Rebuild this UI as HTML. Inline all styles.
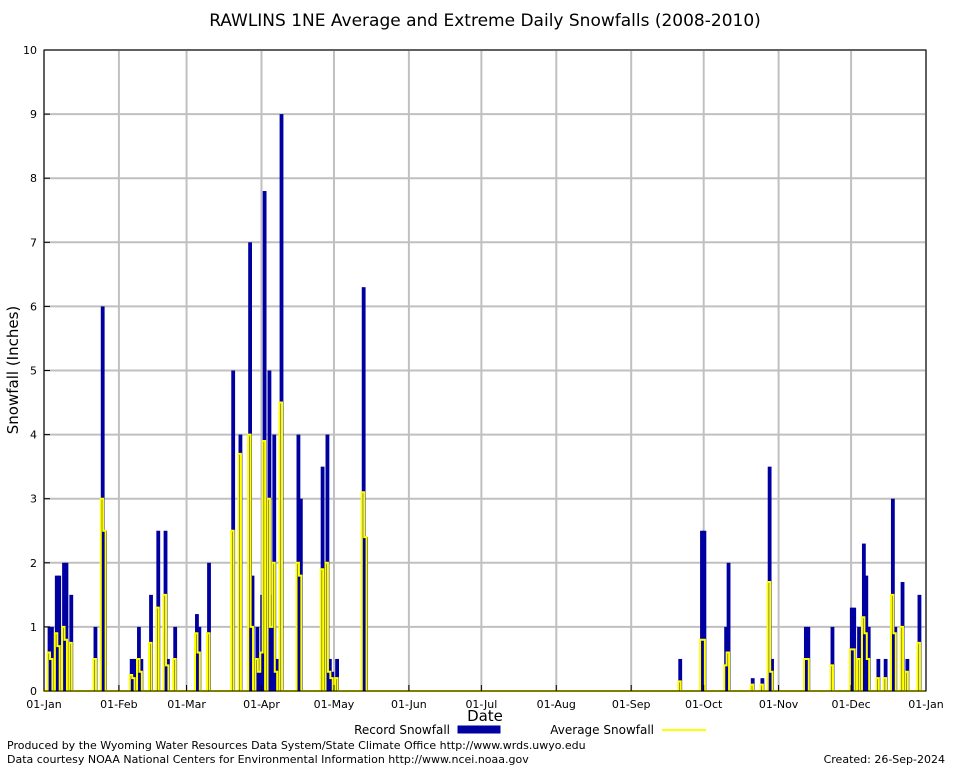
<!DOCTYPE html>
<html><head><meta charset="utf-8"><style>
body{margin:0;background:#fff;font-family:"DejaVu Sans","Liberation Sans",sans-serif;}
svg text{font-family:"DejaVu Sans","Liberation Sans",sans-serif;}
</style></head><body>
<svg id="c" width="954" height="768" xmlns="http://www.w3.org/2000/svg">
<rect width="954" height="768" fill="#fff"/>
<text x="485" y="26" font-size="17" text-anchor="middle">RAWLINS 1NE Average and Extreme Daily Snowfalls (2008-2010)</text>
<g id="grid"></g>
<g id="bars"></g>
<g id="avg"></g>
<rect x="44" y="50" width="882" height="641" fill="none" stroke="#000" stroke-width="1"/>
<g id="axes"></g>
<text x="18" y="370" font-size="15" text-anchor="middle" transform="rotate(-90 18 370)">Snowfall (Inches)</text>
<text x="485" y="721" font-size="15" text-anchor="middle">Date</text>
<g>
<text x="450" y="734" font-size="12" text-anchor="end">Record Snowfall</text>
<rect x="458" y="726" width="42" height="7" fill="#0000a0" stroke="#0000a0"/>
<text x="654" y="734" font-size="12" text-anchor="end">Average Snowfall</text>
<line x1="662" y1="730" x2="706" y2="730" stroke="#ffff00" stroke-width="2"/>
</g>
<text x="7" y="749" font-size="11">Produced by the Wyoming Water Resources Data System/State Climate Office http://www.wrds.uwyo.edu</text>
<text x="7" y="763" font-size="11">Data courtesy NOAA National Centers for Environmental Information http://www.ncei.noaa.gov</text>
<text x="945" y="763" font-size="11" text-anchor="end">Created:  26-Sep-2024</text>
</svg>
<script>
const monthLabels=["01-Jan","01-Feb","01-Mar","01-Apr","01-May","01-Jun","01-Jul","01-Aug","01-Sep","01-Oct","01-Nov","01-Dec","01-Jan"];
const monthStarts=[0,31,59,90,120,151,181,212,243,273,304,334,365];
const yTicks=[0,1,2,3,4,5,6,7,8,9,10];
const snowDays=[2,3,5,6,8,9,11,21,24,25,36,37,39,40,44,47,50,51,54,63,64,68,78,81,85,86,88,89,90,91,93,94,95,96,98,105,106,115,117,118,119,121,132,133,263,272,273,282,283,293,297,300,301,315,316,326,334,335,337,339,340,341,345,348,351,352,355,357,362];
const recordSnow=[1,1,1.8,1.8,2,2,1.5,1,6,2.5,0.5,0.5,1,0.5,1.5,2.5,2.5,0.5,1,1.2,1,2,5,4,7,1.8,1,0.5,1.5,7.8,5,1.5,4,0.5,9,4,3,3.5,4,0.5,0.3,0.5,6.3,2.4,0.5,2.5,2.5,1,2,0.2,0.2,3.5,0.5,1,1,1,1.3,1.3,1,2.3,1.8,1,0.5,0.5,3,1,1.7,0.5,1.5];
const avgSnow=[0.6,0.5,0.9,0.7,1,0.8,0.75,0.5,3,2.5,0.25,0.2,0.5,0.3,0.75,1.3,1.5,0.4,0.5,0.9,0.6,0.9,2.5,3.7,4,1,0.5,0.3,0.6,3.9,3,1,2,0.3,4.5,2,1.8,1.9,2,0.3,0.2,0.2,3.1,2.4,0.15,0.8,0.8,0.4,0.6,0.1,0.1,1.7,0.3,0.5,0.5,0.4,0.65,0.65,0.5,1.15,0.9,0.5,0.2,0.2,1.5,0.9,1,0.3,0.75];
const X0=44,X1=926,Y0=691,Y1=50,NS="http://www.w3.org/2000/svg";
const xs=d=>X0+d*(X1-X0)/365;
const ys=v=>Y0-v*(Y0-Y1)/10;
function mk(tag,at,parent){const e=document.createElementNS(NS,tag);for(const k in at)e.setAttribute(k,at[k]);parent.appendChild(e);return e;}
const grid=document.getElementById('grid'),axes=document.getElementById('axes');
yTicks.forEach(t=>{
 const l=mk('line',{x1:X0,x2:X1,y1:ys(t),y2:ys(t),stroke:'#c0c0c0','stroke-width':2},grid);
 
 
 const tk=mk('line',{x1:X0,x2:X0+6,y1:ys(t),y2:ys(t),stroke:'#000'},axes);
 
 
 const tx=mk('text',{x:37,y:ys(t)+4,'font-size':11,'text-anchor':'end'},axes);
 tx.textContent=t;
 
 
});
monthStarts.forEach((d,i)=>{
 const l=mk('line',{x1:xs(d),x2:xs(d),y1:Y1,y2:Y0,stroke:'#c0c0c0','stroke-width':2},grid);
 
 
 const tk=mk('line',{x1:xs(d),x2:xs(d),y1:Y0,y2:Y0-6,stroke:'#000'},axes);
 
 
 const tx=mk('text',{x:xs(d),y:708,'font-size':11,'text-anchor':'middle'},axes);
 tx.textContent=monthLabels[i];
 
 
});
const bars=document.getElementById('bars');
const dw=(X1-X0)/365;
snowDays.forEach((d,i)=>{
 const b=mk('rect',{x:xs(d)-dw/2,y:ys(recordSnow[i]),width:dw+1.4,height:Y0-ys(recordSnow[i]),fill:'#0000a0'},bars);
 
 
});
const avgByDay=new Array(365).fill(0);
snowDays.forEach((d,i)=>{avgByDay[d]=avgSnow[i];});
let pts=[];
for(let d=0;d<365;d++){const y=ys(avgByDay[d]);pts.push((xs(d)-dw/2)+','+y,(xs(d)+dw/2)+','+y);}
const pl=mk('polyline',{points:pts.join(' '),fill:'none',stroke:'#ffff00','stroke-width':2},document.getElementById('avg'));


</script>
</body></html>
